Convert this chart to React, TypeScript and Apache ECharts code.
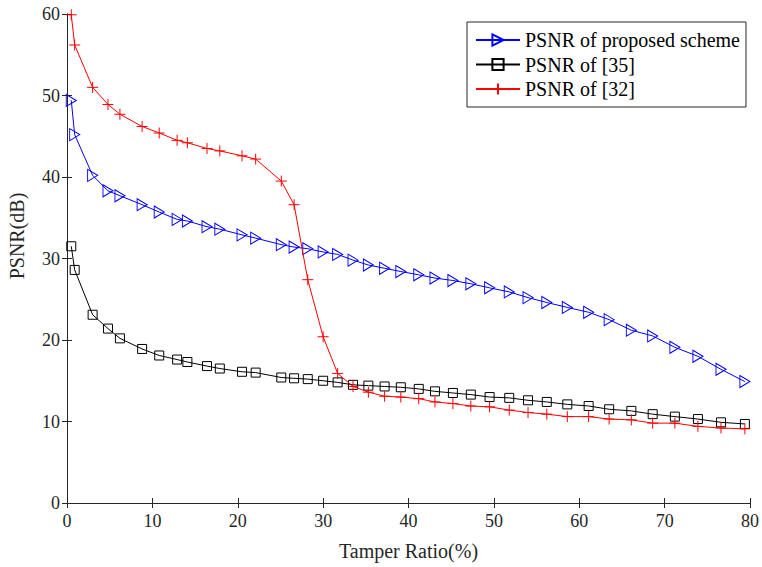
import React, { useEffect, useRef } from "react";
import * as echarts from "echarts";

const tamperRatio = [0.5, 0.9, 3.0, 4.8, 6.2, 8.8, 10.8, 12.9, 14.1, 16.4, 17.9, 20.5, 22.1, 25.1, 26.6, 28.2, 30.0, 31.7, 33.5, 35.3, 37.2, 39.1, 41.2, 43.1, 45.2, 47.3, 49.5, 51.8, 54.0, 56.2, 58.6, 61.1, 63.5, 66.1, 68.6, 71.2, 73.9, 76.6, 79.4];
const psnrProposed = [49.4, 45.2, 40.2, 38.3, 37.7, 36.6, 35.7, 34.8, 34.6, 33.9, 33.6, 32.9, 32.5, 31.7, 31.4, 31.2, 30.8, 30.5, 29.8, 29.2, 28.8, 28.4, 28.0, 27.6, 27.3, 26.9, 26.4, 25.9, 25.2, 24.6, 24.0, 23.4, 22.5, 21.2, 20.5, 19.1, 18.0, 16.4, 14.9];
const psnr35 = [31.5, 28.6, 23.1, 21.4, 20.2, 18.9, 18.1, 17.6, 17.3, 16.8, 16.5, 16.1, 16.0, 15.4, 15.3, 15.2, 15.0, 14.8, 14.5, 14.4, 14.3, 14.2, 14.0, 13.7, 13.5, 13.3, 13.0, 12.9, 12.6, 12.4, 12.1, 11.9, 11.5, 11.3, 10.9, 10.6, 10.3, 9.9, 9.7];
const psnr32 = [59.9, 56.2, 51.0, 48.9, 47.7, 46.2, 45.4, 44.5, 44.2, 43.5, 43.2, 42.6, 42.2, 39.5, 36.6, 27.4, 20.4, 15.9, 14.3, 13.6, 13.1, 13.0, 12.8, 12.4, 12.2, 11.9, 11.8, 11.4, 11.1, 10.9, 10.6, 10.6, 10.3, 10.2, 9.8, 9.8, 9.4, 9.2, 9.1];
const seriesNames = ["PSNR of proposed scheme", "PSNR of [35]", "PSNR of [32]"];
const xTitle = "Tamper Ratio(%)";
const yTitle = "PSNR(dB)";

const FONT = "Liberation Serif";
const AXIS_COLOR = "#262626";

export default function App() {
  const ref = useRef<HTMLDivElement>(null);
  useEffect(() => {
    if (!ref.current) return;
    const chart = echarts.init(ref.current, null, { renderer: "svg" });
    const pair = (ys: number[]) => tamperRatio.map((x, i) => [x, ys[i]]);
    const axisCommon = {
      type: "value",
      min: 0,
      interval: 10,
      splitLine: { show: false },
      axisLine: { show: true, lineStyle: { color: AXIS_COLOR, width: 1 } },
      axisTick: { show: true, inside: true, length: 5, lineStyle: { color: AXIS_COLOR } },
    };
    chart.setOption({
      animation: false,
      backgroundColor: "#fff",
      textStyle: { fontFamily: FONT },
      grid: { left: 67, right: 11, top: 14, bottom: 64, containLabel: false },
      legend: {
        orient: "vertical",
        left: 467,
        top: 22,
        padding: [8, 6, 8, 8],
        itemWidth: 44,
        itemHeight: 14,
        itemGap: 4.5,
        borderColor: AXIS_COLOR,
        borderWidth: 1,
        backgroundColor: "#fff",
        textStyle: { fontFamily: FONT, fontSize: 20, color: "#000", lineHeight: 20 },
        data: seriesNames,
      },
      xAxis: [
        {
          ...axisCommon,
          max: 80,
          position: "bottom",
          name: xTitle,
          nameLocation: "middle",
          nameGap: 38,
          nameTextStyle: { fontFamily: FONT, fontSize: 20, color: AXIS_COLOR },
          axisLabel: { fontFamily: FONT, fontSize: 18, color: AXIS_COLOR, margin: 9 },
        },
        {
          ...axisCommon,
          max: 80,
          position: "top",
          axisLabel: { show: false },
        },
      ],
      yAxis: [
        {
          ...axisCommon,
          max: 60,
          position: "left",
          axisLabel: { fontFamily: FONT, fontSize: 18, color: AXIS_COLOR, margin: 7 },
        },
        {
          ...axisCommon,
          max: 60,
          position: "right",
          axisLabel: { show: false },
        },
      ],
      graphic: [
        {
          type: "text",
          x: 17,
          y: 236,
          rotation: Math.PI / 2,
          style: {
            text: yTitle,
            fontFamily: FONT,
            fontSize: 20,
            fill: AXIS_COLOR,
            align: "center",
            verticalAlign: "middle",
          },
        },
      ],
      series: [
        {
          name: seriesNames[0],
          type: "line",
          data: pair(psnrProposed),
          clip: false,
          symbol: "path://M0,0 L10,6 L0,12 Z",
          symbolSize: [10, 12],
          lineStyle: { color: "#0000ff", width: 1 },
          itemStyle: { color: "transparent", borderColor: "#0000ff", borderWidth: 1 },
          z: 3,
        },
        {
          name: seriesNames[1],
          type: "line",
          data: pair(psnr35),
          clip: false,
          symbol: "rect",
          symbolSize: 9,
          lineStyle: { color: "#000000", width: 1 },
          itemStyle: { color: "transparent", borderColor: "#000000", borderWidth: 1 },
          z: 2,
        },
        {
          name: seriesNames[2],
          type: "line",
          data: pair(psnr32),
          clip: false,
          symbol: "path://M0,5 L10,5 M5,0 L5,10",
          symbolSize: 11,
          lineStyle: { color: "#ff0000", width: 1 },
          itemStyle: { color: "#ff0000", borderColor: "#ff0000", borderWidth: 1 },
          z: 4,
        },
      ],
    });
    return () => chart.dispose();
  }, []);
  return (
    <div
      ref={ref}
      style={{ position: "fixed", left: 0, top: 0, width: 762, height: 567 }}
    />
  );
}
